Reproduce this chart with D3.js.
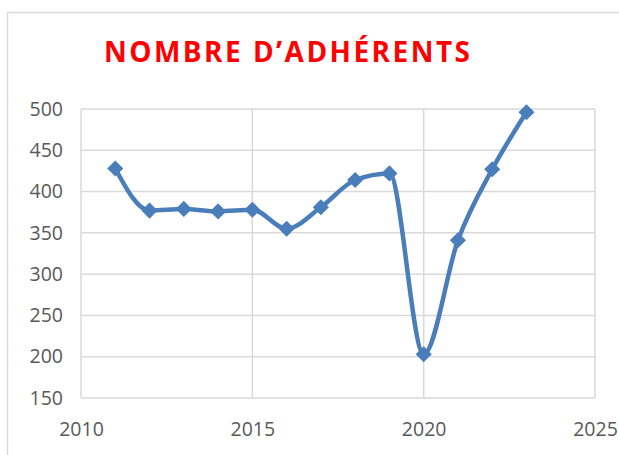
<!DOCTYPE html>
<html>
<head>
<meta charset="utf-8">
<script src="https://cdn.jsdelivr.net/npm/d3@7"></script>
<style>
  body { margin: 0; background: #fff; }
  svg { display: block; }
</style>
</head>
<body>
<div id="chart"></div>
<script>
// data
const years = [2011, 2012, 2013, 2014, 2015, 2016, 2017, 2018, 2019, 2020, 2021, 2022, 2023];
const members = [428, 377, 379, 376, 378, 355, 381, 414, 422, 203, 341, 427, 496];
const xTicks = [2010, 2015, 2020, 2025];
const yTicks = [150, 200, 250, 300, 350, 400, 450, 500];
const title = "NOMBRE D\u2019ADHÉRENTS";

const width = 619;
const height = 455;
const margin = { top: 109, right: 24, bottom: 57, left: 81 };

const svg = d3.select('#chart')
  .append('svg')
  .attr('width', width)
  .attr('height', height);

// outer frame of the chart area
svg.append('rect')
  .attr('x', 7.5).attr('y', 12.5)
  .attr('width', 620).attr('height', 460)
  .attr('fill', 'none')
  .attr('stroke', '#d9d9d9')
  .attr('stroke-width', 1.5);

const xScale = d3.scaleLinear()
  .domain([2010, 2025])
  .range([margin.left, width - margin.right]);

const yScale = d3.scaleLinear()
  .domain([150, 500])
  .range([height - margin.bottom, margin.top]);

// gridlines
const grid = svg.append('g').attr('class', 'gridlines');
grid.selectAll('line.h').data(yTicks).join('line')
  .attr('class', 'h')
  .attr('x1', xScale(2010)).attr('x2', xScale(2025))
  .attr('y1', d => yScale(d)).attr('y2', d => yScale(d))
  .attr('stroke', '#d9d9d9').attr('stroke-width', 1.5);
grid.selectAll('line.v').data(xTicks).join('line')
  .attr('class', 'v')
  .attr('x1', d => xScale(d)).attr('x2', d => xScale(d))
  .attr('y1', yScale(150)).attr('y2', yScale(500))
  .attr('stroke', '#d9d9d9').attr('stroke-width', 1.5);

// axes (labels only, like the Excel look)
const yAxis = d3.axisLeft(yScale).tickValues(yTicks).tickSize(0).tickPadding(18);
const xAxis = d3.axisBottom(xScale).tickValues(xTicks).tickSize(0).tickPadding(24).tickFormat(d3.format('d'));

const gy = svg.append('g')
  .attr('transform', `translate(${margin.left}, 0)`)
  .call(yAxis);
const gx = svg.append('g')
  .attr('transform', `translate(0, ${height - margin.bottom})`)
  .call(xAxis);

[gx, gy].forEach(g => {
  g.select('.domain').remove();
  g.selectAll('text')
    .attr('fill', '#595959')
    .style('font-family', '"Open Sans", "Liberation Sans", sans-serif')
    .style('font-size', '19.5px');
});

// the line
const points = years.map((y, i) => ({ year: y, value: members[i] }));

const line = d3.line()
  .x(d => xScale(d.year))
  .y(d => yScale(d.value))
  .curve(d3.curveMonotoneX);

svg.append('path')
  .datum(points)
  .attr('fill', 'none')
  .attr('stroke', '#4a7ebb')
  .attr('stroke-width', 4.5)
  .attr('stroke-linejoin', 'round')
  .attr('d', line);

// diamond markers
svg.append('g').attr('class', 'dots')
  .selectAll('path').data(points).join('path')
  .attr('transform', d => `translate(${xScale(d.year)}, ${yScale(d.value)}) rotate(45)`)
  .attr('d', d3.symbol().type(d3.symbolSquare).size(130))
  .attr('fill', '#4a7ebb');

// title
svg.append('text')
  .attr('x', 104)
  .attr('y', 62)
  .attr('fill', '#ff0000')
  .attr('textLength', 366)
  .attr('lengthAdjust', 'spacing')
  .style('font-family', '"Open Sans", "Liberation Sans", sans-serif')
  .style('font-weight', 'bold')
  .style('font-size', '28px')
  .text(title);
</script>
</body>
</html>
